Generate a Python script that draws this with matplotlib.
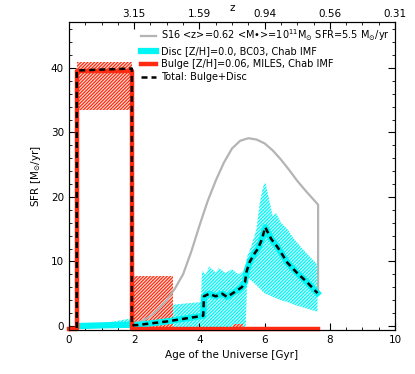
import numpy as np
import matplotlib
matplotlib.use('Agg')
import matplotlib.pyplot as plt
from matplotlib.ticker import MultipleLocator

plt.rcParams['font.family'] = ['DejaVu Sans']
plt.rcParams['hatch.linewidth'] = 0.9

# S16 reference SFH (grey)
s16_age = [0.2, 0.6, 1.0, 1.5, 1.9, 2.25, 2.5, 2.75, 3.0, 3.25, 3.5, 3.75, 4.0, 4.25, 4.5,
           4.75, 5.0, 5.25, 5.5, 5.75, 6.0, 6.25, 6.5, 6.75, 7.0, 7.25, 7.64, 7.64]
s16_sfr = [-0.3, -0.2, 0.0, 0.1, 0.3, 0.8, 1.5, 2.6, 4.0, 5.8, 8.0, 11.5, 15.5, 19.3, 22.5,
           25.3, 27.5, 28.7, 29.1, 28.9, 28.3, 27.2, 25.8, 24.2, 22.5, 21.0, 18.8, 5.3]

# bulge SFH (red step line) and uncertainty boxes
bulge_age = [0.0, 0.26, 0.26, 1.93, 1.93, 7.65]
bulge_sfr = [-0.5, -0.5, 39.5, 39.5, -0.5, -0.5]
bulge_lo_x = [0.26, 1.93, 5.02]
bulge_hi_x = [1.93, 3.18, 5.35]
bulge_lo = [33.4, -0.5, -0.5]
bulge_hi = [40.9, 7.7, 0.3]

# disc SFH (cyan)
disc_age = [0.3, 0.7, 1.0, 1.5, 1.93, 2.1, 2.5, 3.0, 3.5, 4.0, 4.12, 4.14, 4.3, 4.5, 4.7,
            4.85, 5.0, 5.15, 5.3, 5.4, 5.45, 5.55, 5.7, 5.8, 5.92, 6.02, 6.2, 6.4, 6.7,
            7.0, 7.3, 7.62]
disc_sfr = [0.0, 0.05, 0.1, 0.15, 0.2, 0.15, 0.4, 0.7, 1.1, 1.5, 1.6, 4.6, 5.0, 4.6, 5.0,
            4.5, 5.0, 5.5, 6.0, 6.8, 8.5, 10.0, 11.3, 12.0, 13.5, 15.3, 13.5, 12.2, 9.8,
            8.2, 6.8, 5.1]

# disc uncertainty band
band_age = [0.3, 0.75, 1.0, 1.25, 1.5, 1.93, 2.2, 2.6, 3.0, 3.2, 3.6, 4.05, 4.08, 4.2, 4.3,
            4.5, 4.6, 4.8, 5.0, 5.2, 5.35, 5.42, 5.47, 5.6, 5.75, 5.85, 5.95, 6.02, 6.12,
            6.25, 6.35, 6.5, 6.7, 6.9, 7.1, 7.3, 7.62]
band_hi = [0.1, 0.2, 0.4, 0.6, 0.8, 1.2, 1.5, 2.0, 2.7, 3.3, 3.5, 3.7, 8.5, 8.0, 9.2,
           8.3, 9.0, 8.2, 8.8, 8.0, 8.5, 9.5, 10.8, 12.5, 15.0, 19.0, 21.5, 22.3, 20.0,
           17.0, 17.5, 16.0, 15.0, 13.5, 12.3, 11.2, 9.5]
band_lo = [-0.3, -0.3, -0.3, -0.3, -0.3, -0.3, -0.3, -0.3, -0.3, -0.3, -0.3, -0.3, -0.3, -0.3, -0.3,
           -0.3, -0.3, -0.3, -0.3, -0.3, -0.3, 0.0, 7.5, 7.0, 6.3, 5.8, 5.3, 5.0, 4.8,
           4.5, 4.3, 4.0, 3.7, 3.3, 3.0, 2.7, 2.2]

# total = bulge + disc (black dashed)
tot_age = [0.24, 0.24, 1.93, 1.93] + disc_age[5:]
tot_sfr = [-0.3, 39.6, 39.9, 0.1] + disc_sfr[5:]

z_ticks = [2, 4, 6, 8, 10]
z_labels = ['3.15', '1.59', '0.94', '0.56', '0.31']

fig = plt.figure(figsize=(4.15, 3.74), dpi=100)
ax = fig.add_axes([0.166, 0.118, 0.786, 0.823])

cyan = '#00f5f5'
red = '#ff2a10'

ax.fill_between(band_age, band_lo, band_hi, facecolor='#d8ffff', edgecolor=cyan,
                hatch='/' * 10, linewidth=0, zorder=1)
for x0, x1, y0, y1 in zip(bulge_lo_x, bulge_hi_x, bulge_lo, bulge_hi):
    ax.fill_between([x0, x1], [y0, y0], [y1, y1], facecolor='#ffe4dc', edgecolor=red,
                    hatch='/' * 10, linewidth=0, zorder=1)

ax.plot(s16_age, s16_sfr, color='#b4b4b4', lw=1.6, zorder=2,
        label=r'S16 <z>=0.62 <M•>=10$^{11}$M$_{\odot}$ SFR=5.5 M$_{\odot}$/yr')
ax.plot(disc_age, disc_sfr, color=cyan, lw=4.5, zorder=3,
        label='Disc [Z/H]=0.0, BC03, Chab IMF')
ax.plot(bulge_age, bulge_sfr, color=red, lw=3.2, zorder=3, clip_on=False,
        label='Bulge [Z/H]=0.06, MILES, Chab IMF')
ax.plot(tot_age, tot_sfr, color='black', lw=1.8, ls=(0, (2.4, 1.6)), zorder=4,
        label='Total: Bulge+Disc')

ax.set_xlim(0, 10)
ax.set_ylim(-0.6, 47.1)
ax.xaxis.set_major_locator(MultipleLocator(2))
ax.xaxis.set_minor_locator(MultipleLocator(0.5))
ax.yaxis.set_major_locator(MultipleLocator(10))
ax.yaxis.set_minor_locator(MultipleLocator(2))
ax.tick_params(which='both', direction='in', right=True, labelsize=7.5)
ax.tick_params(which='major', length=5)
ax.tick_params(which='minor', length=2.5)
ax.set_xlabel('Age of the Universe [Gyr]', fontsize=7.5, labelpad=4)
ax.set_ylabel(r'SFR [M$_{\odot}$/yr]', fontsize=7.5, labelpad=6)

top = ax.twiny()
top.set_xlim(ax.get_xlim())
top.set_xticks(z_ticks)
top.set_xticklabels(z_labels)
top.xaxis.set_minor_locator(MultipleLocator(0.5))
top.tick_params(which='both', direction='in', labelsize=7.5, pad=2)
top.tick_params(which='major', length=5)
top.tick_params(which='minor', length=2.5)
top.set_xlabel('z', fontsize=7.5, labelpad=-1)

leg = ax.legend(loc='upper right', frameon=False, fontsize=7, handlelength=1.5,
                handletextpad=0.5, labelspacing=0.3, borderaxespad=0.15)

fig.savefig('out.png', dpi=100)
